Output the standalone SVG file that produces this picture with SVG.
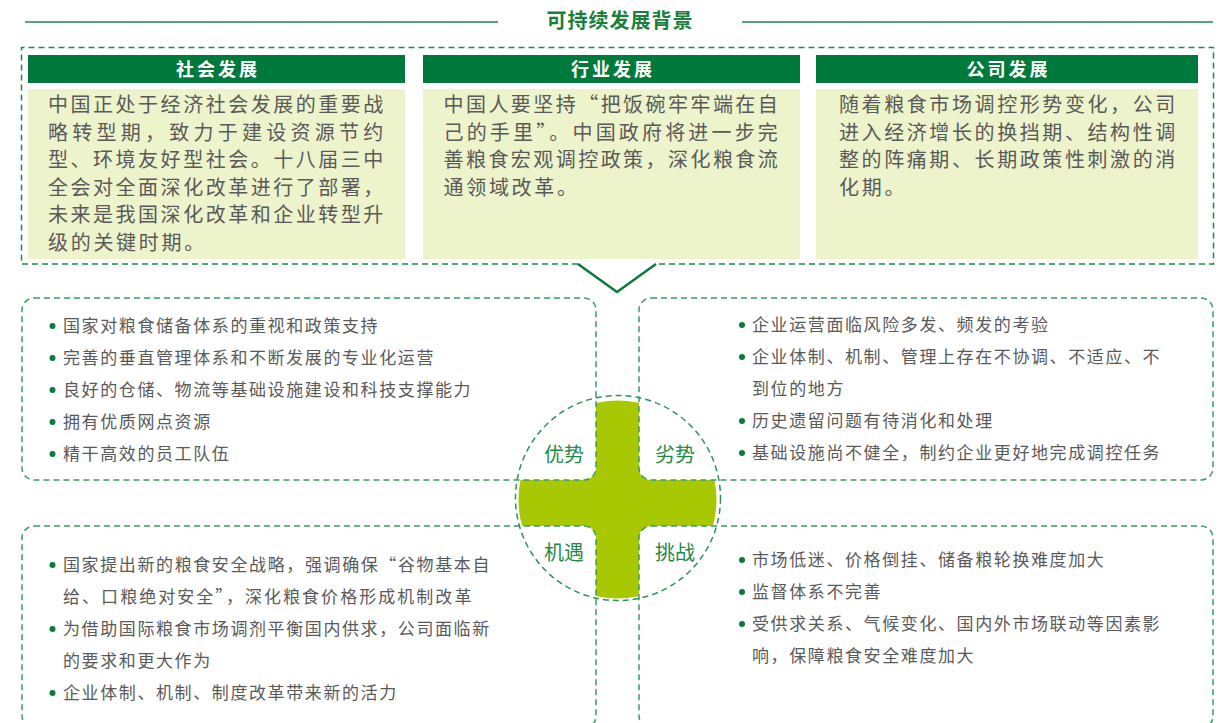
<svg xmlns="http://www.w3.org/2000/svg" width="1226" height="723" viewBox="0 0 1226 723">
<defs>
<style>
.t{font-family:"Noto Sans CJK SC","Noto Sans",sans-serif;}
.title{font-size:20px;font-weight:bold;fill:#1a7f3c;letter-spacing:1px;}
.hdr{fill:#007a3c;}
.htxt{font-size:18px;font-weight:bold;fill:#ffffff;letter-spacing:3px;}
.bg{fill:#edf3cb;}
.body{font-size:20px;fill:#5a5a5a;letter-spacing:2.7px;}
.q{font-size:17px;fill:#5a5a5a;letter-spacing:1.6px;}
.lbl{font-size:20px;fill:#1f8a4a;}
.dash{fill:none;stroke:#1e8a4a;stroke-width:1.5;stroke-dasharray:6 4;}
.qbox{fill:#ffffff;stroke:#3a9c63;stroke-width:1.5;stroke-dasharray:6 4;}
.ring{fill:none;stroke:#2e9258;stroke-width:1.5;stroke-dasharray:6 4;}
.dot{fill:#0b7a3b;}
</style>
</defs>
<rect width="1226" height="723" fill="#ffffff"/>

<g id="title">
<line x1="25" y1="22" x2="498" y2="22" stroke="#1e8a4a" stroke-width="1.5"/>
<line x1="742" y1="22" x2="1213" y2="22" stroke="#1e8a4a" stroke-width="1.5"/>
<text class="t title" x="620" y="28" text-anchor="middle">可持续发展背景</text>
</g>

<g id="background-frame">
<path class="dash" d="M578,264 L21.5,264 L21.5,47.5 L1213.5,47.5 L1213.5,264 L656,264"/>
<path d="M578,264 L617,292 L656,264" fill="none" stroke="#0b7a3b" stroke-width="2.5"/>
</g>

<g id="social">
<rect class="hdr" x="28" y="55" width="377" height="28"/>
<text class="t htxt" x="218" y="76" text-anchor="middle">社会发展</text>
<rect class="bg" x="28" y="89" width="377" height="170"/>
<text class="t body" x="48" y="112" textLength="338" lengthAdjust="spacing">中国正处于经济社会发展的重要战</text>
<text class="t body" x="48" y="139.5" textLength="338" lengthAdjust="spacing">略转型期，致力于建设资源节约</text>
<text class="t body" x="48" y="167" textLength="338" lengthAdjust="spacing">型、环境友好型社会。十八届三中</text>
<text class="t body" x="48" y="194.5" textLength="338" lengthAdjust="spacing">全会对全面深化改革进行了部署，</text>
<text class="t body" x="48" y="222" textLength="338" lengthAdjust="spacing">未来是我国深化改革和企业转型升</text>
<text class="t body" x="48" y="249.5">级的关键时期。</text>
</g>

<g id="industry">
<rect class="hdr" x="423" y="55" width="377" height="28"/>
<text class="t htxt" x="613" y="76" text-anchor="middle">行业发展</text>
<rect class="bg" x="423" y="89" width="377" height="170"/>
<text class="t body" x="443.5" y="112" textLength="337" lengthAdjust="spacing">中国人要坚持“把饭碗牢牢端在自</text>
<text class="t body" x="443.5" y="139.5" textLength="337" lengthAdjust="spacing">己的手里”。中国政府将进一步完</text>
<text class="t body" x="443.5" y="167" textLength="337" lengthAdjust="spacing">善粮食宏观调控政策，深化粮食流</text>
<text class="t body" x="443.5" y="194.5">通领域改革。</text>
</g>

<g id="company">
<rect class="hdr" x="816" y="55" width="382" height="28"/>
<text class="t htxt" x="1008.5" y="76" text-anchor="middle">公司发展</text>
<rect class="bg" x="816" y="89" width="382" height="170"/>
<text class="t body" x="839" y="112" textLength="339" lengthAdjust="spacing">随着粮食市场调控形势变化，公司</text>
<text class="t body" x="839" y="139.5" textLength="339" lengthAdjust="spacing">进入经济增长的换挡期、结构性调</text>
<text class="t body" x="839" y="167" textLength="339" lengthAdjust="spacing">整的阵痛期、长期政策性刺激的消</text>
<text class="t body" x="839" y="194.5">化期。</text>
</g>

<g id="cross">
<circle cx="617.5" cy="499.5" r="99" fill="#a9c804"/>
</g>

<g id="strengths">
<rect class="qbox" x="22" y="298" width="574" height="182" rx="12"/>
<circle class="dot" cx="52.5" cy="326" r="3"/>
<text class="t q" x="63" y="332">国家对粮食储备体系的重视和政策支持</text>
<circle class="dot" cx="52.5" cy="358" r="3"/>
<text class="t q" x="63" y="364">完善的垂直管理体系和不断发展的专业化运营</text>
<circle class="dot" cx="52.5" cy="390" r="3"/>
<text class="t q" x="63" y="396">良好的仓储、物流等基础设施建设和科技支撑能力</text>
<circle class="dot" cx="52.5" cy="422" r="3"/>
<text class="t q" x="63" y="428">拥有优质网点资源</text>
<circle class="dot" cx="52.5" cy="454" r="3"/>
<text class="t q" x="63" y="460">精干高效的员工队伍</text>
</g>

<g id="weaknesses">
<rect class="qbox" x="639" y="298" width="574" height="182" rx="12"/>
<circle class="dot" cx="742" cy="325" r="3"/>
<text class="t q" x="752" y="331">企业运营面临风险多发、频发的考验</text>
<circle class="dot" cx="742" cy="357" r="3"/>
<text class="t q" x="752" y="363">企业体制、机制、管理上存在不协调、不适应、不</text>
<text class="t q" x="752" y="395">到位的地方</text>
<circle class="dot" cx="742" cy="421" r="3"/>
<text class="t q" x="752" y="427">历史遗留问题有待消化和处理</text>
<circle class="dot" cx="742" cy="453" r="3"/>
<text class="t q" x="752" y="459">基础设施尚不健全，制约企业更好地完成调控任务</text>
</g>

<g id="opportunities">
<rect class="qbox" x="22" y="526" width="574" height="202" rx="12"/>
<circle class="dot" cx="52.5" cy="565" r="3"/>
<text class="t q" x="63" y="571" textLength="428" lengthAdjust="spacing">国家提出新的粮食安全战略，强调确保“谷物基本自</text>
<text class="t q" x="63" y="603" textLength="410" lengthAdjust="spacing">给、口粮绝对安全”，深化粮食价格形成机制改革</text>
<circle class="dot" cx="52.5" cy="629" r="3"/>
<text class="t q" x="63" y="635">为借助国际粮食市场调剂平衡国内供求，公司面临新</text>
<text class="t q" x="63" y="667">的要求和更大作为</text>
<circle class="dot" cx="52.5" cy="693" r="3"/>
<text class="t q" x="63" y="699">企业体制、机制、制度改革带来新的活力</text>
</g>

<g id="threats">
<rect class="qbox" x="639" y="526" width="574" height="202" rx="12"/>
<circle class="dot" cx="742" cy="560" r="3"/>
<text class="t q" x="752" y="566">市场低迷、价格倒挂、储备粮轮换难度加大</text>
<circle class="dot" cx="742" cy="592" r="3"/>
<text class="t q" x="752" y="598">监督体系不完善</text>
<circle class="dot" cx="742" cy="624" r="3"/>
<text class="t q" x="752" y="630">受供求关系、气候变化、国内外市场联动等因素影</text>
<text class="t q" x="752" y="662">响，保障粮食安全难度加大</text>
</g>

<g id="swot-center">
<circle class="ring" cx="618" cy="498" r="102.5"/>
<text class="t lbl" x="564" y="462" text-anchor="middle">优势</text>
<text class="t lbl" x="675" y="462" text-anchor="middle">劣势</text>
<text class="t lbl" x="564" y="560" text-anchor="middle">机遇</text>
<text class="t lbl" x="675" y="560" text-anchor="middle">挑战</text>
</g>
</svg>
